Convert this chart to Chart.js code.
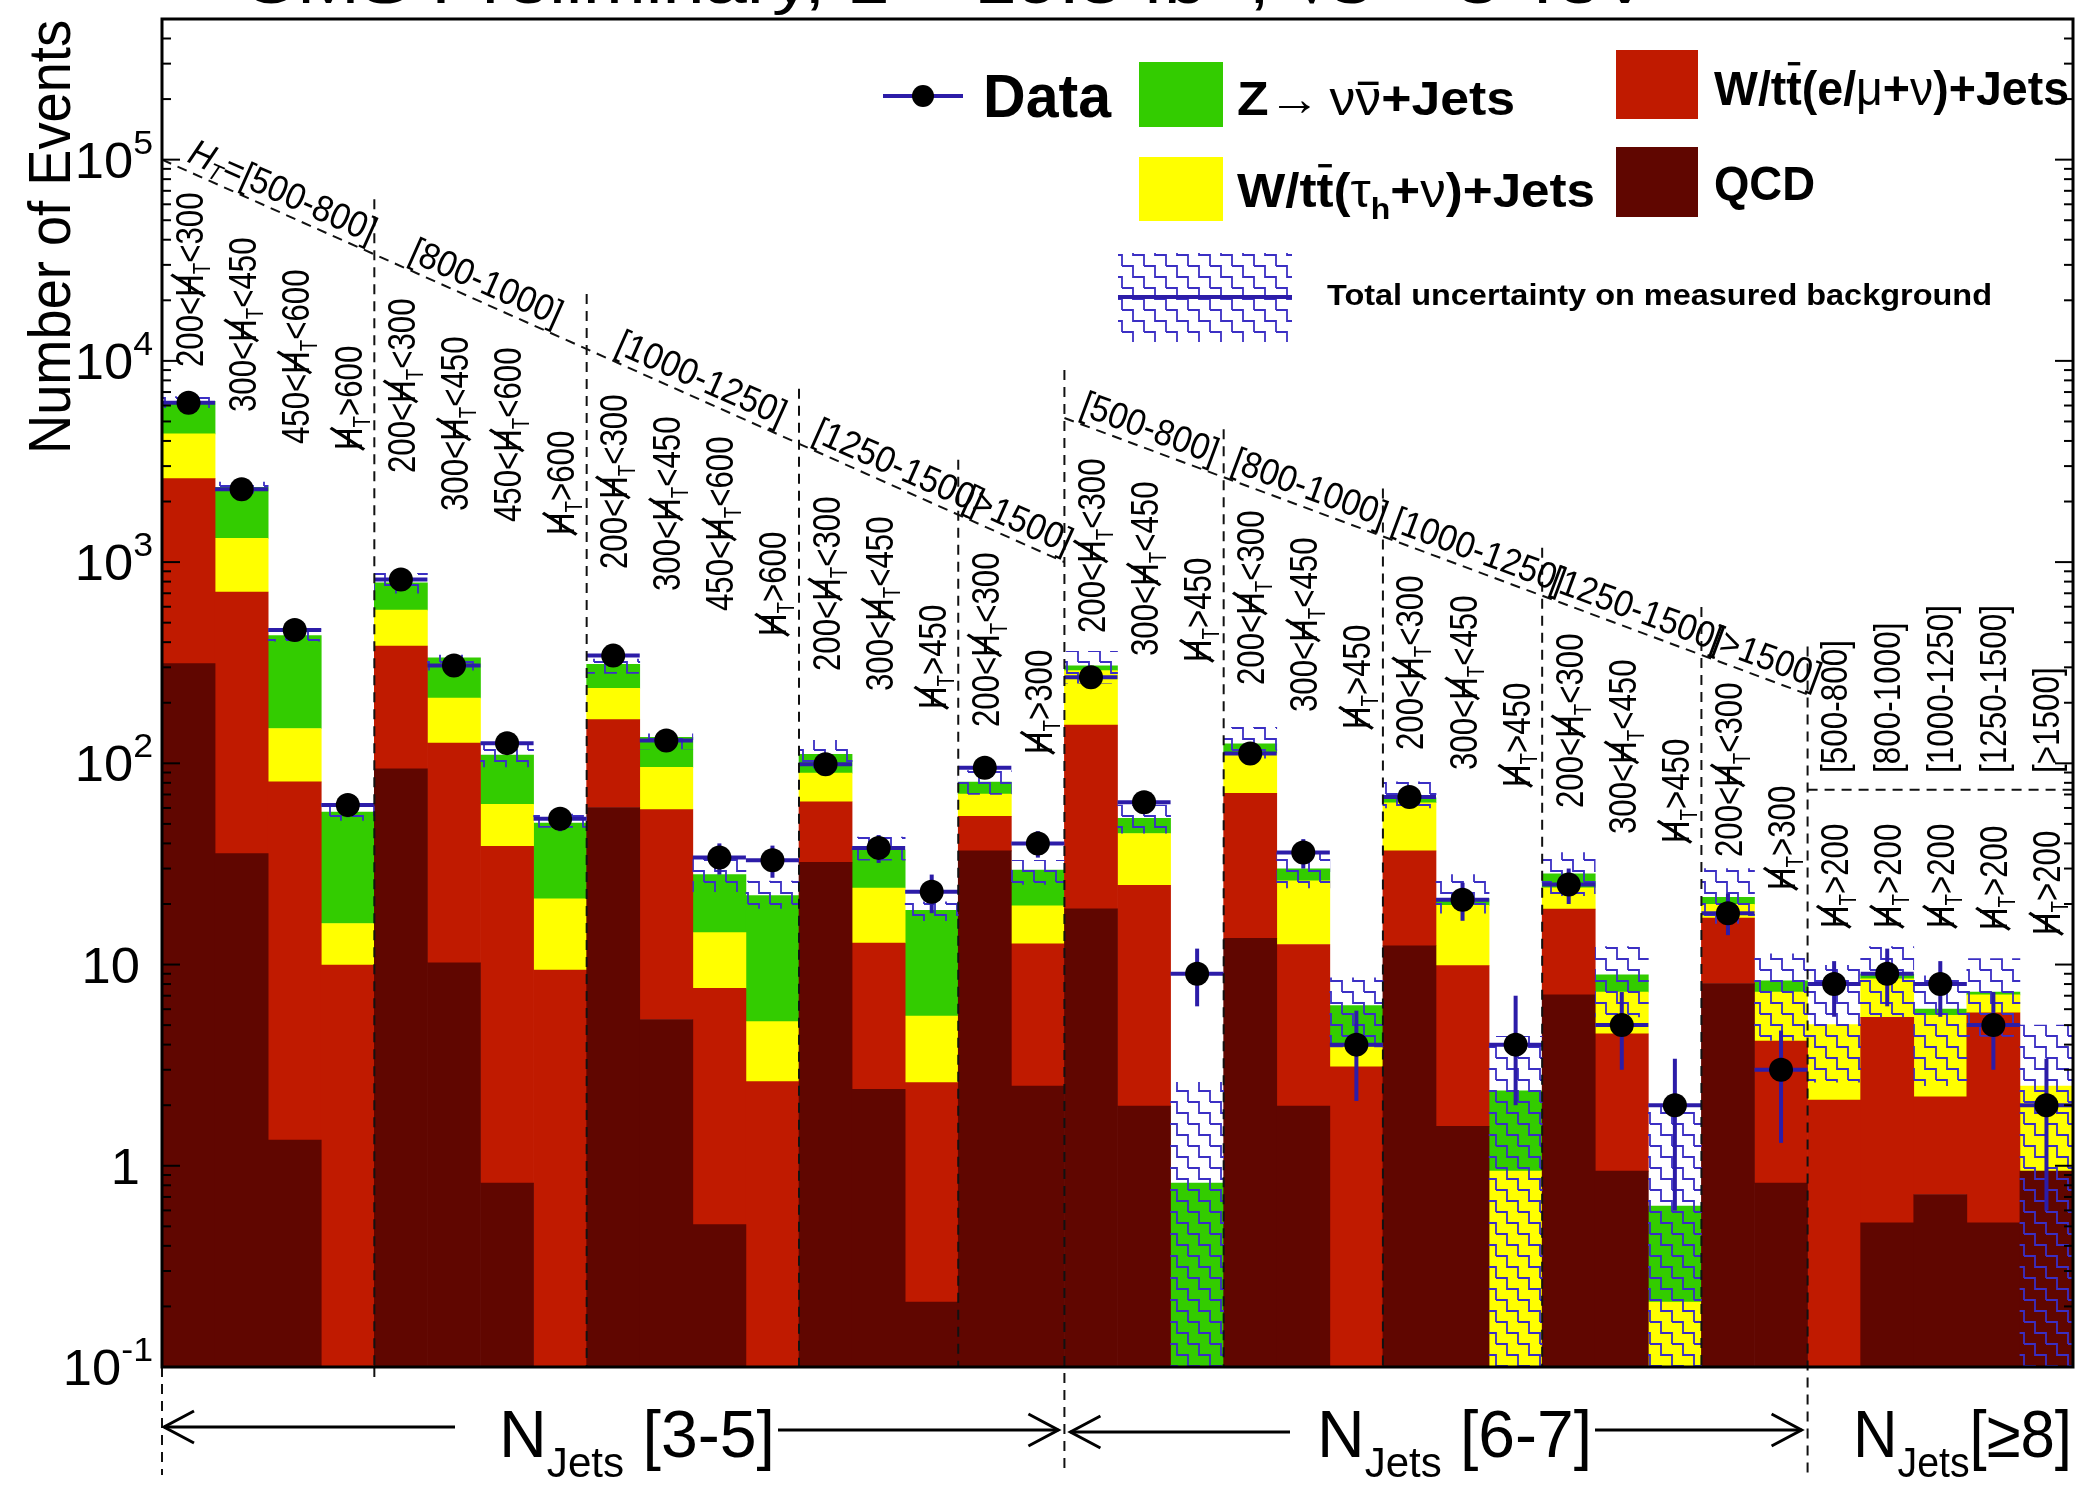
<!DOCTYPE html>
<html><head><meta charset="utf-8">
<script src="https://cdn.jsdelivr.net/npm/chart.js@4.4.1/dist/chart.umd.min.js"></script>
<style>html,body{margin:0;padding:0;background:#fff;}canvas{display:block;}</style>
</head><body>
<canvas id="c" width="2092" height="1496" style="width:2092px;height:1496px"></canvas>
<script>
// ---------------- DATA ----------------
// '@' stands for the missing-HT symbol (slashed H with subscript T)
const binLabels = [
 '200<@<300','300<@<450','450<@<600','@>600',
 '200<@<300','300<@<450','450<@<600','@>600',
 '200<@<300','300<@<450','450<@<600','@>600',
 '200<@<300','300<@<450','@>450',
 '200<@<300','@>300',
 '200<@<300','300<@<450','@>450',
 '200<@<300','300<@<450','@>450',
 '200<@<300','300<@<450','@>450',
 '200<@<300','300<@<450','@>450',
 '200<@<300','@>300',
 '@>200','@>200','@>200','@>200','@>200'];
const htRanges = ['[500-800]','[800-1000]','[1000-1250]','[1250-1500]','[>1500]'];
const njetsLabels = ['[3-5]','[6-7]','[≥8]'];
const htGroupStarts35 = [0,4,8,12,15];
const htGroupStarts67 = [17,20,23,26,29];

const qcd        = [313,35.6,1.34,0, 94,10.2,0.82,0, 60.3,5.33,0.51,0, 32.2,2.4,0.21, 36.7,2.49, 18.9,1.98,0, 13.5,1.98,0, 12.4,1.57,0, 7.07,0.94,0, 8.05,0.82, 0,0.52,0.72,0.52,0.94];
const lostLepton = [2287,675,79.6,9.95, 289,115.8,37.9,9.4, 104.7,53.5,7.1,2.62, 32.2,10.4,2.38, 17.8,10.2, 136,22.8,0, 57.5,10.6,3.1, 24.3,8.3,0, 11.8,3.58,0, 8.95,3.35, 2.12,4.94,1.48,5.24,0];
const hadTau     = [1740,602,68,6.05, 194,85,23.8,11.8, 71,36.7,6.8,2.58, 25,11.2,2.96, 15.8,6.9, 134,20,0, 41,13.5,0.8, 27,9.8,0.94, 5.2,2.78,0.21, 2.9,3.13, 2.91,3.04,3.4,1.31,1.55];
const zInv       = [1960,1037,282,41.3, 211,123,47.5,29.2, 74,39,13.6,16.8, 21.6,13.1,13.05, 10.4,9.9, 16,8.5,0.82, 13,3.8,2.35, 3.6,1.6,1.42, 4.2,1.58,0.42, 1.7,1.0, 0,0.47,0.4,0.23,0];

const dataCounts = [6200,2300,460,62, 820,306,126,53, 343,130,34,33, 99,38,23, 95,40, 268,64,9, 112,36,4, 68,21,4, 25,5,2, 18,3, 8,9,8,5,2];
const dataLow    = [6120,2250,440,54, 790,289,115,46, 325,119,28,27, 89,32,18, 85,34, 252,56,6.2, 101,30,2.1, 60,16.5,2.0, 20,3.0,0.6, 14,1.3, 5.5,6.2,5.5,3.0,0.6];
const dataHigh   = [6280,2350,480,70, 850,323,137,60, 361,141,40,39, 109,44,28, 105,46, 284,72,12, 123,42,5.9, 76,25.5,7.0, 30,7.3,3.4, 22.5,4.7, 10.4,12,10.4,7.3,3.4];

const bandLow  = [5850,2200,405,52, 700,290,96,48, 280,118,23,19, 95,33,16.5, 70,25, 250,45,0.01, 106,24,3.9, 60,18,0.01, 22,5.5,0.01, 16,4.2, 2.6,5.5,2.5,4.4,0.01];
const bandHigh = [6650,2500,460,61, 880,345,126,56, 330,140,34,26, 130,43,20.5, 92,33, 360,62,2.6, 151,36,8.6, 81,28,4.4, 36,12.3,2.0, 30,11.3, 9.9,12.3,8.8,10.7,5.0];

// annotation guide levels (in y-axis units)
const diag35 = [1e5, 1e3];     // H_T diagonal, N_jets 3-5 (left edge -> right edge)
const diag67 = [5200, 220];    // H_T diagonal, N_jets 6-7
const hline8 = 74;             // dashed separator, N_jets >= 8

// label baselines (bottom of vertical MHT labels), pixels
const mhtLabelBottoms = [367,412,444,450, 473,511,522,535, 569,591,611,636, 671,691,709, 727,754,
  633,656,662, 685,712,729, 750,770,787, 808,834,843, 857,890, 928,928,928,930,935];

// ---------------- STYLE ----------------
const FONT = '"Liberation Sans", Arial, Helvetica, sans-serif';
const COL_QCD = '#600600', COL_LL = '#c01a00', COL_TAU = '#ffff00', COL_Z = '#33cc00';
const BLUE = '#2c1ca8', HATCH = '#3b2fc4';
function font(s, b, it){ return (it?'italic ':'') + (b?'bold ':'') + s + 'px ' + FONT; }

function makeHatch(){
  const T = 22, h = 11;
  const c = document.createElement('canvas'); c.width = T; c.height = T;
  const g = c.getContext('2d');
  g.strokeStyle = HATCH; g.lineWidth = 1.8;
  for (const dx of [-T,0,T]) for (const dy of [-T,0,T]) {
    g.beginPath();
    g.moveTo(dx+0, dy+2); g.lineTo(dx+h, dy+2); g.lineTo(dx+h, dy+2+h);
    g.lineTo(dx+T, dy+2+h); g.lineTo(dx+T, dy+2+T);
    g.stroke();
  }
  return document.getElementById('c').getContext('2d').createPattern(c, 'repeat');
}
const hatchPattern = makeHatch();

function drawSegs(c, segs, x, y, opt){
  opt = opt || {};
  let W = 0;
  for (const g of segs){ c.font = font(g.s, g.b, g.it); g.w = c.measureText(g.t).width; W += g.w; }
  let sx = opt.sx || 1;
  if (opt.fit) sx = opt.fit / W;
  c.save(); c.translate(x, y); c.scale(sx, 1);
  let cx = opt.align === 'right' ? -W : opt.align === 'center' ? -W/2 : 0;
  c.textAlign = 'left'; c.textBaseline = 'alphabetic';
  const col = opt.color || '#000';
  c.fillStyle = col; c.strokeStyle = col;
  for (const g of segs){
    c.font = font(g.s, g.b, g.it);
    const dy = g.dy || 0;
    c.fillText(g.t, cx, dy);
    if (g.over){
      c.lineWidth = g.s*0.07; c.beginPath();
      const oy = dy - g.s*g.over;
      c.moveTo(cx + g.w*0.1, oy); c.lineTo(cx + g.w*0.9, oy); c.stroke();
    }
    if (g.slash){
      c.lineWidth = g.s*0.09; c.beginPath();
      c.moveTo(cx + g.w*0.02, dy + g.s*0.06); c.lineTo(cx + g.w*0.98, dy - g.s*0.8); c.stroke();
    }
    cx += g.w;
  }
  c.restore();
  return W*sx;
}
function drawRot(c, segs, x, y, ang, opt){
  c.save(); c.translate(x, y); c.rotate(ang); drawSegs(c, segs, 0, 0, opt); c.restore();
}
function mhtSegs(label, s){
  const p = label.split('@');
  const out = [];
  if (p[0]) out.push({t:p[0], s});
  out.push({t:'H', s, slash:true});
  out.push({t:'T', s:s*0.6, dy:s*0.2});
  if (p[1]) out.push({t:p[1], s});
  return out;
}

// ---------------- PLUGIN ----------------
const annot = {
  id: 'annot',
  beforeDraw(chart){
    const c = chart.ctx; c.save(); c.fillStyle = '#fff'; c.fillRect(0, 0, chart.width, chart.height); c.restore();
  },
  beforeDatasetDraw(chart, args){
    if (args.index !== 0) return;
    const c = chart.ctx, xs = chart.scales.x, ys = chart.scales.y, a = chart.chartArea;
    const bw = (a.right - a.left) / binLabels.length;
    c.save();
    c.beginPath(); c.rect(a.left, a.top, a.right - a.left, a.bottom - a.top); c.clip();
    c.strokeStyle = BLUE; c.lineWidth = 4;
    for (let i = 0; i < dataCounts.length; i++){
      const x = xs.getPixelForValue(i), y = ys.getPixelForValue(dataCounts[i]);
      c.beginPath(); c.moveTo(x - bw/2, y); c.lineTo(x + bw/2, y); c.stroke();
      c.beginPath(); c.moveTo(x, ys.getPixelForValue(dataLow[i])); c.lineTo(x, ys.getPixelForValue(dataHigh[i])); c.stroke();
    }
    c.restore();
  },
  afterDatasetsDraw(chart){
    const c = chart.ctx, xs = chart.scales.x, ys = chart.scales.y, a = chart.chartArea;
    const n = binLabels.length, bw = (a.right - a.left) / n;
    const edge = b => (b >= n ? a.right : xs.getPixelForValue(b) - bw/2);
    const d1 = [edge(0), ys.getPixelForValue(diag35[0]), edge(17), ys.getPixelForValue(diag35[1])];
    const d2 = [edge(17), ys.getPixelForValue(diag67[0]), edge(31), ys.getPixelForValue(diag67[1])];
    const lineY = (d, x) => d[1] + (d[3]-d[1]) * (x - d[0]) / (d[2] - d[0]);
    chart.$diag = {d1, d2, lineY, edge, bw};

    c.save();
    c.strokeStyle = '#111'; c.lineWidth = 2; c.setLineDash([10, 7]);
    c.beginPath(); c.moveTo(d1[0], d1[1]); c.lineTo(d1[2], d1[3]); c.stroke();
    c.beginPath(); c.moveTo(d2[0], d2[1]); c.lineTo(d2[2], d2[3]); c.stroke();
    const yh = ys.getPixelForValue(hline8);
    c.beginPath(); c.moveTo(edge(31), yh); c.lineTo(a.right, yh); c.stroke();
    for (const b of [4,8,12,15]){
      const x = edge(b);
      c.beginPath(); c.moveTo(x, lineY(d1, x) - 55); c.lineTo(x, a.bottom); c.stroke();
    }
    for (const b of [17,20,23,26,29,31]){
      const x = edge(b);
      c.beginPath(); c.moveTo(x, lineY(d2, x) - 48); c.lineTo(x, b === 17 || b === 31 ? a.bottom + 108 : a.bottom); c.stroke();
    }
    c.beginPath(); c.moveTo(a.left, a.bottom); c.lineTo(a.left, a.bottom + 108); c.stroke();
    c.beginPath(); c.moveTo(edge(4), a.bottom); c.lineTo(edge(4), a.bottom + 16); c.stroke();
    c.setLineDash([]);
    c.lineWidth = 3; c.strokeStyle = '#000';
    c.strokeRect(a.left, a.top, a.right - a.left, a.bottom - a.top);
    c.lineWidth = 2;
    for (let e = -1; e <= 6; e++){
      for (let m = 1; m <= 9; m++){
        const v = m * Math.pow(10, e);
        if (v < ys.min || v > ys.max) continue;
        const y = ys.getPixelForValue(v), L = m === 1 ? 18 : 9;
        c.beginPath(); c.moveTo(a.left, y); c.lineTo(a.left + L, y); c.stroke();
        c.beginPath(); c.moveTo(a.right, y); c.lineTo(a.right - L, y); c.stroke();
      }
    }
    c.restore();
  },
  afterDraw(chart){
    const c = chart.ctx, xs = chart.scales.x, ys = chart.scales.y, a = chart.chartArea;
    const {d1, d2, lineY, edge} = chart.$diag;
    c.save();
    c.fillStyle = '#000';
    // ---- title (cut by the canvas top) ----
    drawSegs(c, [{t:'CMS Preliminary, L = 19.5 fb', s:60},{t:'-1', s:38, dy:-26},{t:', √s = 8 TeV', s:60}], 242, 3, {fit:1408});
    // ---- y axis title ----
    drawRot(c, [{t:'Number of Events', s:60}], 70, 454, -Math.PI/2, {fit:434});
    // ---- y tick labels ----
    for (let e = -1; e <= 5; e++){
      const y = ys.getPixelForValue(Math.pow(10, e)) + 18;
      if (e === 0) drawSegs(c, [{t:'1', s:50}], 140, y, {align:'right', sx:1.05});
      else if (e === 1) drawSegs(c, [{t:'10', s:50}], 140, y, {align:'right', sx:1.05});
      else drawSegs(c, [{t:'10', s:50},{t:String(e), s:34, dy:-24}], 153, y, {align:'right', sx:1.05});
    }
    // ---- vertical MHT labels ----
    for (let i = 0; i < binLabels.length; i++){
      const s = 39;
      drawRot(c, mhtSegs(binLabels[i], s), xs.getPixelForValue(i) + 0.36*s, mhtLabelBottoms[i], -Math.PI/2, {sx:0.8});
    }
    // ---- HT diagonal labels ----
    const ang1 = Math.atan2(d1[3]-d1[1], d1[2]-d1[0]);
    const ang2 = Math.atan2(d2[3]-d2[1], d2[2]-d2[0]);
    const off35 = [24,33,27,12,3], off67 = [14,6,7,6,7];
    htGroupStarts35.forEach((b, k) => {
      const x = edge(b) + off35[k];
      const segs = k === 0 ? [{t:'H', s:37, it:true},{t:'T', s:23, dy:6, it:true},{t:'='+htRanges[k], s:37}] : [{t:htRanges[k], s:37}];
      drawRot(c, segs, x, lineY(d1, x) - 9, ang1, {sx:0.92});
    });
    htGroupStarts67.forEach((b, k) => {
      const x = edge(b) + off67[k];
      drawRot(c, [{t:htRanges[k], s:37}], x, lineY(d2, x) - 9, ang2, {sx:0.92});
    });
    for (let k = 0; k < 5; k++){
      drawRot(c, [{t:htRanges[k], s:37}], xs.getPixelForValue(31 + k) + 13, 773, -Math.PI/2, {sx:0.85});
    }
    // ---- N_jets labels + arrows ----
    const arrow = (x1, x2, y, headLeft) => {
      c.save(); c.strokeStyle = '#000'; c.lineWidth = 3;
      c.beginPath(); c.moveTo(x1, y); c.lineTo(x2, y); c.stroke();
      const hx = headLeft ? x1 : x2, dir = headLeft ? 1 : -1;
      c.beginPath(); c.moveTo(hx + dir*30, y - 16); c.lineTo(hx, y); c.lineTo(hx + dir*30, y + 16); c.stroke();
      c.restore();
    };
    const nj = (lbl, x, fit, space) => drawSegs(c, [{t:'N', s:66},{t:'Jets', s:42, dy:20},{t:(space?' ':'') + lbl, s:66}], x, 1457, {fit});
    nj(njetsLabels[0], 499, 276, true);
    arrow(a.left + 2, 455, 1427, true); arrow(778, edge(17) - 6, 1430, false);
    nj(njetsLabels[1], 1317, 275, true);
    arrow(edge(17) + 6, 1290, 1432, true); arrow(1595, edge(31) - 6, 1430, false);
    nj(njetsLabels[2], 1853, 219, false);

    // ---- legend ----
    c.strokeStyle = BLUE; c.lineWidth = 4;
    c.beginPath(); c.moveTo(883, 96); c.lineTo(963, 96); c.stroke();
    c.fillStyle = '#000'; c.beginPath(); c.arc(923, 96, 11, 0, Math.PI*2); c.fill();
    drawSegs(c, [{t:'Data', s:62, b:true}], 983, 117, {fit:128});
    c.fillStyle = COL_Z;   c.fillRect(1139, 62, 84, 65);
    c.fillStyle = COL_TAU; c.fillRect(1139, 157, 84, 64);
    c.fillStyle = COL_LL;  c.fillRect(1616, 50, 82, 69);
    c.fillStyle = COL_QCD; c.fillRect(1616, 147, 82, 70);
    drawSegs(c, [{t:'Z', s:48, b:true},{t:'→', s:48},{t:' ', s:30},{t:'ν', s:48},{t:'ν', s:48, over:0.66},{t:'+Jets', s:48, b:true}], 1237, 115, {fit:278});
    drawSegs(c, [{t:'W/t', s:48, b:true},{t:'t', s:48, b:true, over:0.86},{t:'(e/', s:48, b:true},{t:'μ', s:48},{t:'+', s:48, b:true},{t:'ν', s:48},{t:')+Jets', s:48, b:true}], 1714, 105, {fit:355});
    drawSegs(c, [{t:'W/t', s:48, b:true},{t:'t', s:48, b:true, over:0.86},{t:'(', s:48, b:true},{t:'τ', s:48},{t:'h', s:30, b:true, dy:12},{t:'+', s:48, b:true},{t:'ν', s:48},{t:')+Jets', s:48, b:true}], 1237, 207, {fit:358});
    drawSegs(c, [{t:'QCD', s:48, b:true}], 1714, 200, {fit:101});
    c.fillStyle = hatchPattern; c.fillRect(1118, 253, 174, 89);
    c.strokeStyle = BLUE; c.lineWidth = 4;
    c.beginPath(); c.moveTo(1118, 297); c.lineTo(1292, 297); c.stroke();
    drawSegs(c, [{t:'Total uncertainty on measured background', s:30, b:true}], 1327, 305, {fit:665});
    c.restore();
  }
};

// ---------------- CHART ----------------
new Chart(document.getElementById('c'), {
  type: 'bar',
  data: {
    labels: binLabels,
    datasets: [
      { type:'line', label:'Data', data: dataCounts, showLine:false, order:0,
        pointRadius:12, pointHoverRadius:12, pointBackgroundColor:'#000', pointBorderColor:'#000', pointBorderWidth:0 },
      { label:'Total uncertainty on measured background', data: bandLow.map((lo, i) => [lo, bandHigh[i]]),
        backgroundColor: hatchPattern, stack:'band', grouped:false, order:1 },
      { label:'QCD', data: qcd, backgroundColor: COL_QCD, stack:'bg', order:2 },
      { label:'W/tt(e/mu+nu)+Jets', data: lostLepton, backgroundColor: COL_LL, stack:'bg', order:2 },
      { label:'W/tt(tau_h+nu)+Jets', data: hadTau, backgroundColor: COL_TAU, stack:'bg', order:2 },
      { label:'Z->nunu+Jets', data: zInv, backgroundColor: COL_Z, stack:'bg', order:2 }
    ]
  },
  options: {
    responsive: false, animation: false, events: [],
    layout: { padding: { left: 162, right: 19, top: 19, bottom: 129 } },
    datasets: { bar: { barPercentage: 1, categoryPercentage: 1, borderWidth: 0 } },
    plugins: { legend: { display: false }, tooltip: { enabled: false }, title: { display: false } },
    scales: {
      x: { type: 'category', display: false, stacked: true, offset: true, grid: { display: false } },
      y: { type: 'logarithmic', display: false, stacked: true, min: 0.1, max: 5e5 }
    }
  },
  plugins: [annot]
});
</script>
</body></html>
